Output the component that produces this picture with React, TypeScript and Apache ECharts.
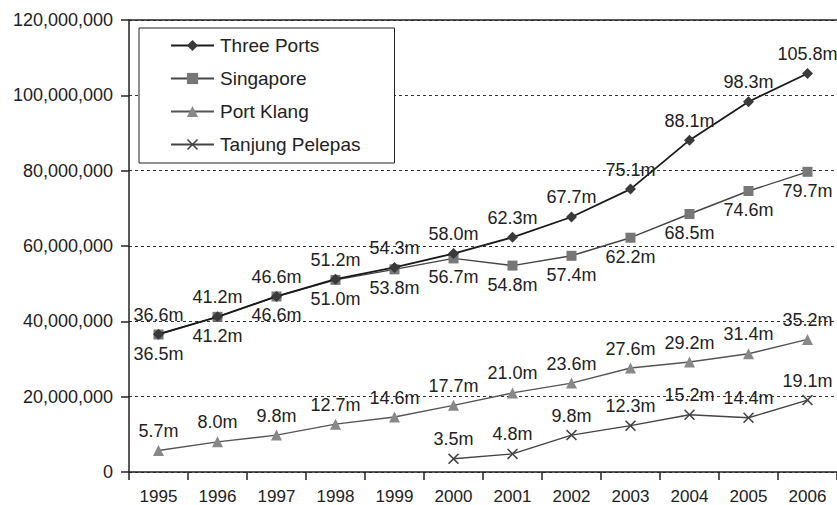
import React, { useEffect, useRef } from "react";
import * as echarts from "echarts";

const years = ["1995", "1996", "1997", "1998", "1999", "2000", "2001", "2002", "2003", "2004", "2005", "2006"];

// Container throughput, millions of TEU
const threePorts = [36.6, 41.2, 46.6, 51.2, 54.3, 58.0, 62.3, 67.7, 75.1, 88.1, 98.3, 105.8];
const singapore = [36.5, 41.2, 46.6, 51.0, 53.8, 56.7, 54.8, 57.4, 62.2, 68.5, 74.6, 79.7];
const portKlang = [5.7, 8.0, 9.8, 12.7, 14.6, 17.7, 21.0, 23.6, 27.6, 29.2, 31.4, 35.2];
const tanjungPelepas = [null, null, null, null, null, 3.5, 4.8, 9.8, 12.3, 15.2, 14.4, 19.1];

const toUnits = (arr: (number | null)[]) => arr.map((v) => (v == null ? null : v * 1e6));

const crossSymbol =
  "path://M0,1 L1,0 L5,4 L9,0 L10,1 L6,5 L10,9 L9,10 L5,6 L1,10 L0,9 L4,5 Z";

const FONT = "Liberation Sans, Arial, sans-serif";

export default function App() {
  const ref = useRef<HTMLDivElement>(null);

  useEffect(() => {
    if (!ref.current) return;
    const chart = echarts.init(ref.current, null, { renderer: "svg" });

    const label = (position: string) => ({
      show: true,
      position,
      distance: 5,
      fontSize: 18,
      fontFamily: FONT,
      color: "#222",
      formatter: (p: any) => (p.value == null ? "" : (p.value / 1e6).toFixed(1) + "m"),
    });

    chart.setOption({
      animation: false,
      backgroundColor: "#fff",
      textStyle: { fontFamily: FONT },
      grid: { left: 129, right: 0, top: 20, bottom: 33 },
      legend: {
        orient: "vertical",
        left: 139,
        top: 28,
        padding: [8, 34, 9, 31],
        itemWidth: 43,
        itemHeight: 14,
        itemGap: 14,
        borderColor: "#222",
        borderWidth: 1,
        backgroundColor: "#fff",
        textStyle: { fontSize: 19, color: "#222", fontFamily: FONT, padding: [0, 0, 0, 1] },
        data: ["Three Ports", "Singapore", "Port Klang", "Tanjung Pelepas"],
      },
      xAxis: {
        type: "category",
        data: years,
        boundaryGap: true,
        axisLine: { lineStyle: { color: "#222", width: 1.5 } },
        axisTick: { show: true, length: 8, lineStyle: { color: "#222", width: 1.5 } },
        axisLabel: { fontSize: 17, color: "#222", margin: 16, fontFamily: FONT },
        splitLine: { show: false },
      },
      yAxis: {
        type: "value",
        min: 0,
        max: 120000000,
        interval: 20000000,
        axisLine: { show: true, lineStyle: { color: "#222", width: 1.5 } },
        axisTick: { show: true, length: 8, lineStyle: { color: "#222", width: 1.5 } },
        axisLabel: {
          fontSize: 18,
          color: "#222",
          margin: 16,
          fontFamily: FONT,
          formatter: (v: number) => v.toLocaleString("en-US"),
        },
        splitLine: {
          show: true,
          lineStyle: { color: "#333", width: 1, type: [3, 3] },
        },
      },
      graphic: [
        {
          type: "line",
          shape: { x1: 129, y1: 20, x2: 837, y2: 20 },
          style: { stroke: "#222", lineWidth: 1.5 },
          z: 10,
        },
      ],
      series: [
        {
          name: "Three Ports",
          type: "line",
          data: toUnits(threePorts),
          symbol: "diamond",
          symbolSize: 11,
          lineStyle: { color: "#1a1a1a", width: 1.8 },
          itemStyle: { color: "#3a3a3a" },
          label: label("top"),
          z: 4,
        },
        {
          name: "Singapore",
          type: "line",
          data: toUnits(singapore),
          symbol: "rect",
          symbolSize: 10,
          lineStyle: { color: "#444", width: 1.4 },
          itemStyle: { color: "#777" },
          label: label("bottom"),
          z: 3,
        },
        {
          name: "Port Klang",
          type: "line",
          data: toUnits(portKlang),
          symbol: "triangle",
          symbolSize: 11,
          lineStyle: { color: "#555", width: 1.4 },
          itemStyle: { color: "#888" },
          label: label("top"),
          z: 3,
        },
        {
          name: "Tanjung Pelepas",
          type: "line",
          data: toUnits(tanjungPelepas),
          symbol: crossSymbol,
          symbolSize: 11,
          lineStyle: { color: "#444", width: 1.4 },
          itemStyle: { color: "#444" },
          label: label("top"),
          z: 3,
        },
      ],
    });

    return () => chart.dispose();
  }, []);

  return <div ref={ref} style={{ width: 837, height: 505, position: "absolute", left: 0, top: 0 }} />;
}
